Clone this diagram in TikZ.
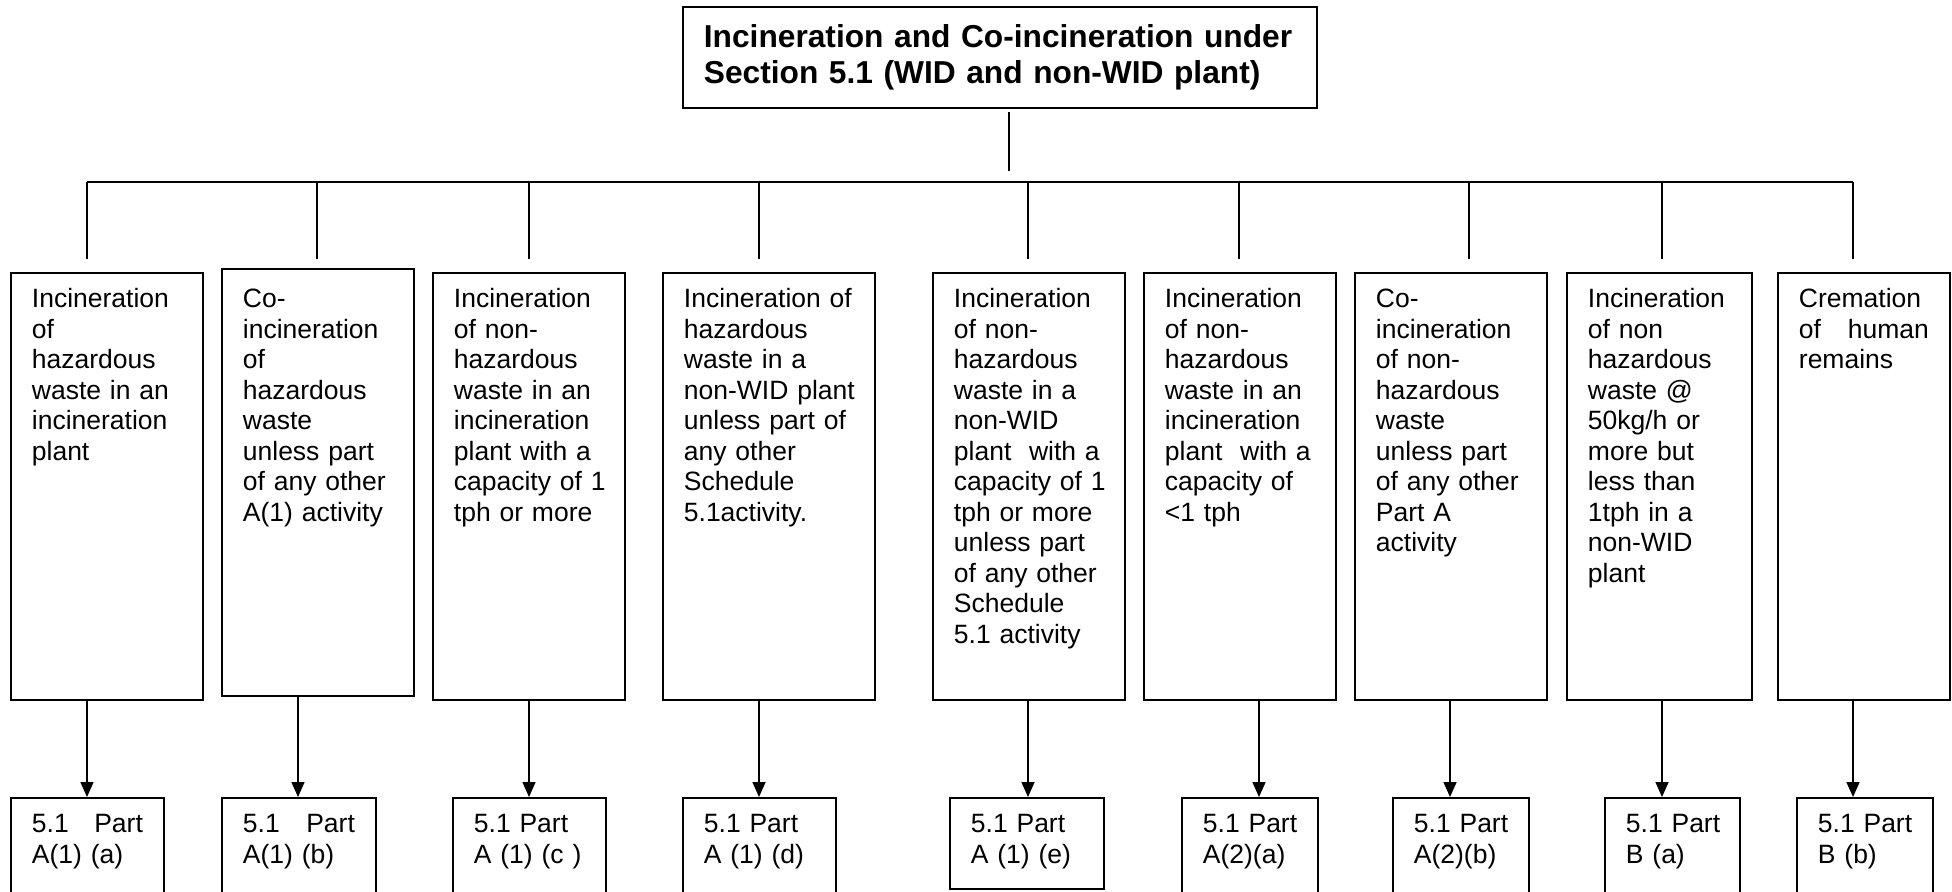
\documentclass[tikz,border=0pt]{standalone}
\usepackage{fontspec}
\setmainfont{Liberation Sans}
\usetikzlibrary{arrows.meta}
\begin{document}
\begin{tikzpicture}[x=0.5pt,y=-0.5pt,
  box/.style={draw, line width=0.9pt, anchor=north west, inner xsep=10.5pt,
    inner ysep=0pt, align=left, text height=17.5pt,
    font=\fontsize{13.25}{15.25}\selectfont,
    % lines are broken by hand; let a line overrun slightly rather than wrap
    execute at begin node={\rightskip=0pt plus 1fil minus 14pt\relax
      \hyphenpenalty=10000\relax\exhyphenpenalty=10000\relax}},
  upbox/.style={box, text depth=196pt},
  lowbox/.style={box, text depth=39pt},
  link/.style={line width=0.75pt},
  arr/.style={link, -{Triangle[width=6.5pt,length=7.5pt]}},
]
\useasboundingbox (0,0) rectangle (1952,891);
\fill[white] (0,0) rectangle (1952,891);
\clip (0,0) rectangle (1952,891);

% heading
\node[box, text width=296pt, text height=20.5pt, text depth=30pt,
  font=\fontsize{15.85}{18}\selectfont\bfseries] (title) at (682,6)
  {Incineration and Co-incineration under\\Section 5.1 (WID and non-WID plant)};

% activity boxes
\node[upbox, text width=75pt] (u1) at (10,272)
  {Incineration\\of\\hazardous\\waste in an\\incineration\\plant};
\node[upbox, text width=75pt, text height=19.5pt, text depth=194pt] (u2) at (221,268)
  {Co-\\incineration\\of\\hazardous\\waste\\unless part\\of any other\\A(1) activity};
\node[upbox, text width=75pt] (u3) at (432,272)
  {Incineration\\of non-\\hazardous\\waste in an\\incineration\\plant with a\\capacity of 1\\tph or more};
\node[upbox, text width=85pt] (u4) at (662,272)
  {Incineration of\\hazardous\\waste in a\\non-WID plant\\unless part of\\any other\\Schedule\\5.1activity.};
\node[upbox, text width=75pt] (u5) at (932,272)
  {Incineration\\of non-\\hazardous\\waste in a\\non-WID\\plant~ with a\\capacity of 1\\tph or more\\unless part\\of any other\\Schedule\\5.1 activity};
\node[upbox, text width=75pt] (u6) at (1143,272)
  {Incineration\\of non-\\hazardous\\waste in an\\incineration\\plant~ with a\\capacity of\\<1 tph};
\node[upbox, text width=75pt] (u7) at (1354,272)
  {Co-\\incineration\\of non-\\hazardous\\waste\\unless part\\of any other\\Part A\\activity};
\node[upbox, text width=71.5pt] (u8) at (1566,272)
  {Incineration\\of non\\hazardous\\waste @\\50kg/h or\\more but\\less than\\1tph in a\\non-WID\\plant};
\node[upbox, text width=65pt] (u9) at (1777,272)
  {Cremation\\of\hfill human\\remains};

% permit references
\node[lowbox, text width=55.5pt] (l1) at (10,797) {5.1\hfill Part\\A(1) (a)};
\node[lowbox, text width=56pt] (l2) at (221,797) {5.1\hfill Part\\A(1) (b)};
\node[lowbox, text width=55.5pt] (l3) at (452,797) {5.1 Part\\A (1) (c )};
\node[lowbox, text width=55.5pt] (l4) at (682,797) {5.1 Part\\A (1) (d)};
\node[lowbox, text width=56pt, text depth=28pt] (l5) at (949,797) {5.1 Part\\A (1) (e)};
\node[lowbox, text width=47pt] (l6) at (1181,797) {5.1 Part\\A(2)(a)};
\node[lowbox, text width=47pt] (l7) at (1392,797) {5.1 Part\\A(2)(b)};
\node[lowbox, text width=46.5pt] (l8) at (1604,797) {5.1 Part\\B (a)};
\node[lowbox, text width=47pt] (l9) at (1796,797) {5.1 Part\\B (b)};

% stem and bus
\coordinate (stem) at (1009,112);
\draw[link] (stem) -- ++(0,59);
\coordinate (busL) at (87,182);
\coordinate (busR) at (1853,182);
\draw[link] (busL) -- (busR);

% drops from the bus
\foreach \i/\x in {1/87,2/317,3/529,4/759,5/1028,6/1239,7/1469,8/1662,9/1853}{
  \coordinate (d\i) at (\x,182);
  \draw[link] (d\i) -- ++(0,77);
}

% arrows to the permit references
\foreach \i/\x in {1/87,2/298,3/529,4/759,5/1028,6/1259,7/1450,8/1662,9/1853}{
  \coordinate (a\i) at (\x,0);
  \draw[arr] (u\i.south -| a\i) -- (l\i.north -| a\i);
}
\end{tikzpicture}
\end{document}
